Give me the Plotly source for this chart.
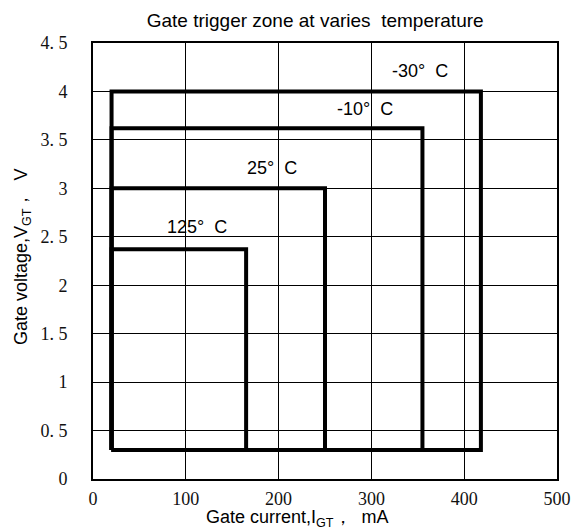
import plotly.graph_objects as go

# Data: gate trigger zones (rectangles) per temperature
temps = ["-30°  C", "-10°  C", "25°  C", "125°  C"]
igt_min = [20, 20, 20, 20]          # mA
igt_max = [418, 355, 250, 165]      # mA
vgt_min = [0.3, 0.3, 0.3, 0.3]      # V
vgt_max = [4.0, 3.62, 3.0, 2.37]    # V
label_x = [352, 293, 193, 112]
label_y = [4.21, 3.82, 3.21, 2.6]

x_ticks = [0, 100, 200, 300, 400, 500]
x_ticktext = ["0", "100", "200", "300", "400", "500"]
y_ticks = [0, 0.5, 1, 1.5, 2, 2.5, 3, 3.5, 4, 4.5]
y_ticktext = ["0", "0. 5", "1", "1. 5", "2", "2. 5", "3", "3. 5", "4", "4. 5"]

SANS = "Liberation Sans, Arial"
SERIF = "Liberation Serif, Times New Roman"

fig = go.Figure()
for t, x0, x1, y0, y1 in zip(temps, igt_min, igt_max, vgt_min, vgt_max):
    fig.add_trace(go.Scatter(
        x=[x0, x1, x1, x0, x0], y=[y0, y0, y1, y1, y0],
        mode="lines", line=dict(color="black", width=4),
        name=t, showlegend=False, hoverinfo="skip"))

for t, lx, ly in zip(temps, label_x, label_y):
    fig.add_annotation(x=lx, y=ly, text=t, showarrow=False,
                       font=dict(family=SANS, size=18, color="black"))

# axis titles
fig.add_annotation(x=0.44, y=-0.09, xref="paper", yref="paper", yanchor="middle",
                   text="Gate current,I<sub>GT</sub>，  mA", showarrow=False,
                   font=dict(family=SANS, size=18, color="black"))
fig.add_annotation(x=-0.152, y=0.51, xref="paper", yref="paper", xanchor="center",
                   yanchor="middle", textangle=-90,
                   text="Gate voltage,V<sub>GT</sub>，  V", showarrow=False,
                   font=dict(family=SANS, size=18, color="black"))

axis_common = dict(showgrid=True, gridcolor="black", gridwidth=1.2,
                   showline=True, linecolor="black", linewidth=2, mirror=True,
                   zeroline=False, ticks="", automargin=False,
                   tickfont=dict(family=SERIF, size=18, color="#111"))

fig.update_xaxes(range=[0, 500], tickvals=x_ticks, ticktext=x_ticktext,
                 ticklabelstandoff=2, **axis_common)
fig.update_yaxes(range=[0, 4.5], tickvals=y_ticks, ticktext=y_ticktext,
                 ticklabelstandoff=20, **axis_common)

# page body adds an 8px offset, so the figure is 8px smaller than the window
fig.update_layout(
    width=572, height=524,
    margin=dict(l=85, r=23, t=35, b=53),
    paper_bgcolor="white", plot_bgcolor="white",
    title=dict(text="Gate trigger zone at varies  temperature", x=0.537, xanchor="center",
               y=0.977, yanchor="middle",
               font=dict(family=SANS, size=19, color="black")),
)

fig.write_html("out.html")
